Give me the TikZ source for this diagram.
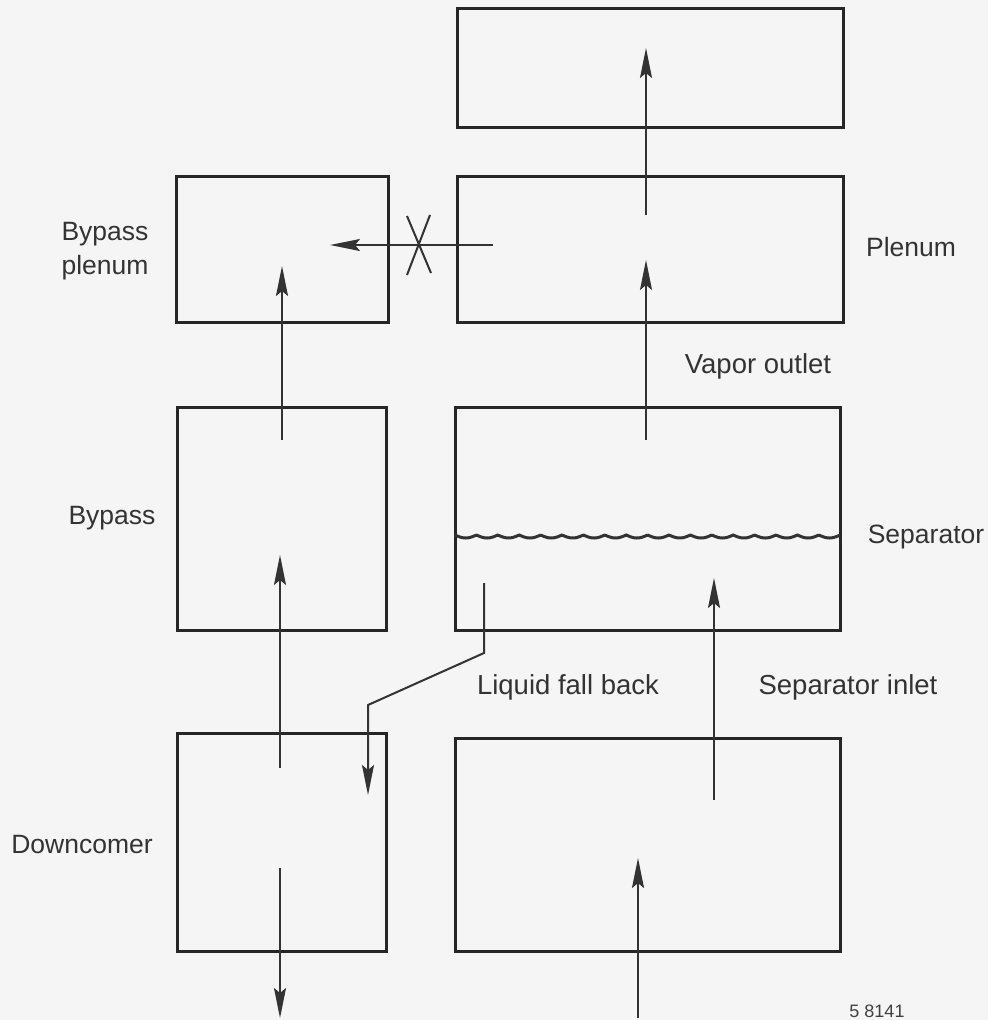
\documentclass[tikz,border=0pt]{standalone}
\usepackage{fontspec}
\setmainfont{Liberation Sans}
\usetikzlibrary{arrows.meta}
\begin{document}
\begin{tikzpicture}[x=1pt,y=-1pt,
  box/.style={draw=black!85,line width=3pt,rectangle,inner sep=0pt},
  flow/.style={draw=black!80,line width=2pt,-{Stealth[length=30pt,width=12pt,inset=5pt]}},
  lbl/.style={font=\fontsize{26.5}{34}\selectfont,text=black!80,align=center},
  lblb/.style={font=\fontsize{27.5}{34}\selectfont,text=black!80,align=center}]
\fill[black!4] (0,0) rectangle (988,1020);
\useasboundingbox (0,0) rectangle (988,1020);
% boxes
\node[box,minimum width=386pt,minimum height=119pt] (top) at (650,67.5) {};
\node[box,minimum width=386pt,minimum height=146pt] (plenum) at (650,249) {};
\node[box,minimum width=212pt,minimum height=146pt] (bplen) at (282,249) {};
\node[box,minimum width=209pt,minimum height=223pt] (bypass) at (281.5,518.5) {};
\node[box,minimum width=385pt,minimum height=223pt] (sep) at (647.5,518.5) {};
\node[box,minimum width=209pt,minimum height=218pt] (down) at (281.5,842) {};
\node[box,minimum width=385pt,minimum height=213pt] (bot) at (647.5,844.5) {};
% liquid level
\draw[black!80,line width=3pt] plot[domain=0:385,samples=300] ({455+\x},{535+3*abs(sin(8.411*\x))});
% coordinates
\coordinate (a1s) at (646,215); \coordinate (a1e) at (646,48);
\coordinate (a2s) at (646,440); \coordinate (a2e) at (646,260);
\coordinate (hs) at (493,245); \coordinate (he) at (330,245);
\coordinate (x1a) at (407,216); \coordinate (x1b) at (431,273);
\coordinate (x2a) at (430,215); \coordinate (x2b) at (407,275);
\coordinate (b1s) at (282,440); \coordinate (b1e) at (282,266);
\coordinate (b2s) at (280,768); \coordinate (b2e) at (280,555);
\coordinate (b3s) at (280,868); \coordinate (b3e) at (280,1018);
\coordinate (l1) at (484,583); \coordinate (l2) at (484,653);
\coordinate (l3) at (368,705); \coordinate (l4) at (368,795);
\coordinate (s1s) at (714,800); \coordinate (s1e) at (714,578);
\coordinate (s2s) at (638,1018); \coordinate (s2e) at (638,858);
% arrows
\draw[flow] (a1s) -- (a1e);
\draw[flow] (a2s) -- (a2e);
\draw[flow] (hs) -- (he);
\draw[black!80,line width=2pt] (x1a) -- (x1b) (x2a) -- (x2b);
\draw[flow] (b1s) -- (b1e);
\draw[flow] (b2s) -- (b2e);
\draw[flow] (b3s) -- (b3e);
\draw[flow] (l1) -- (l2) -- (l3) -- (l4);
\draw[flow] (s1s) -- (s1e);
\draw[flow] (s2s) -- (s2e);
% labels
\node[lbl,align=left] (tbp) at (105,251) {Bypass\\plenum};
\node[lbl] (tby) at (112,518) {Bypass};
\node[lbl] (tdc) at (82,845) {Downcomer};
\node[lbl] (tpl) at (911,247) {Plenum};
\node[lbl] (tse) at (926,537) {Separator};
\node[lblb] (tvo) at (758,366) {Vapor outlet};
\node[lblb] (tlf) at (568,687) {Liquid fall back};
\node[lblb] (tsi) at (848,687) {Separator inlet};
\node[font=\fontsize{18}{21}\selectfont,text=black!75] (tid) at (877,1011) {5 8141};
\end{tikzpicture}
\end{document}
